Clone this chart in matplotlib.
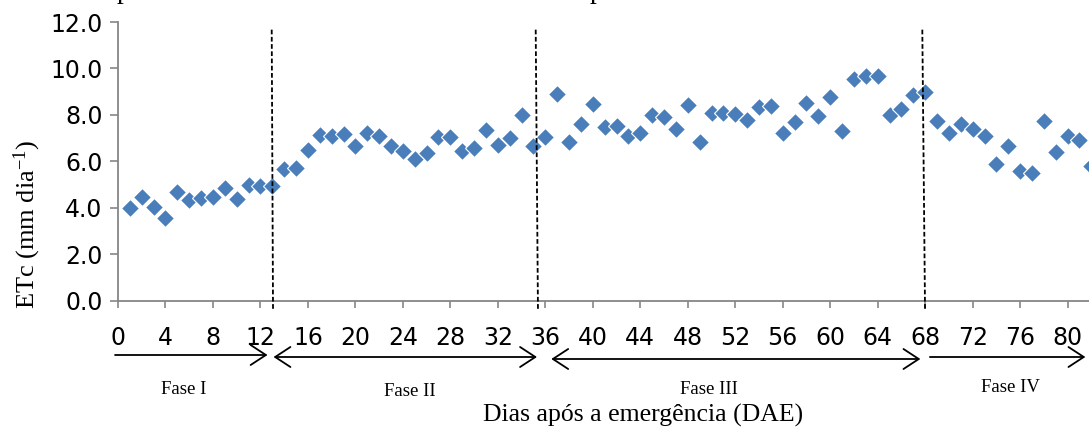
import numpy as np
import matplotlib
matplotlib.use("Agg")
import matplotlib.pyplot as plt
from matplotlib.patches import FancyArrowPatch
from matplotlib.transforms import blended_transform_factory

plt.rcParams["mathtext.fontset"] = "custom"
plt.rcParams["mathtext.rm"] = "Liberation Serif"
plt.rcParams["mathtext.it"] = "Liberation Serif:italic"
plt.rcParams["mathtext.default"] = "regular"

# ---- data ----
days = list(range(1, 83))
etc = [4.00, 4.48, 4.02, 3.55, 4.67, 4.34, 4.41, 4.48, 4.87, 4.37, 4.99, 4.94, 4.96,
       5.66, 5.71, 6.50, 7.14, 7.11, 7.17, 6.64, 7.22, 7.11, 6.64,
       6.45, 6.09, 6.35, 7.03, 7.04, 6.45, 6.59, 7.36, 6.71, 7.00, 8.00, 6.67, 7.04,
       8.91, 6.83, 7.60, 8.48, 7.50, 7.53, 7.10, 7.24, 8.00, 7.93, 7.39, 8.43, 6.85,
       8.08, 8.08, 8.05, 7.76,
       8.32, 8.39, 7.21, 7.69, 8.53, 7.96, 8.75, 7.31, 9.56, 9.69, 9.66, 8.00, 8.25,
       8.87, 8.98,
       7.72, 7.21, 7.60, 7.40, 7.07, 5.88, 6.64, 5.60, 5.49, 7.72, 6.42, 7.10, 6.93, 5.78]
xticks = list(range(0, 81, 4))
yticks = [0, 2, 4, 6, 8, 10, 12]
phase_names = ["Fase I", "Fase II", "Fase III", "Fase IV"]
phase_label_x = [5.5, 24.6, 49.8, 75.2]
phase_bounds_top = [12.95, 35.19, 67.76]
phase_bounds_bottom = [13.06, 35.38, 67.99]
arrow_start = [-0.25, 13.1, 36.5, 68.4]
arrow_end = [12.6, 35.3, 67.6, 81.5]
arrow_styles = ["->", "<->", "<->", "->"]

W, H = 1089, 430
fig = plt.figure(figsize=(W / 100, H / 100), dpi=100)
ax = fig.add_axes([118 / W, (H - 300.7) / H, 971 / W, (300.7 - 22) / H])

ax.plot(days, etc, linestyle="none", marker="D", markersize=9.6,
        markerfacecolor="#4A7EBB", markeredgecolor="white", markeredgewidth=0.8,
        clip_on=False, zorder=3)

ax.set_xlim(0, 971 / 11.87)
ax.set_ylim(0, 12)
ax.set_xticks(xticks)
ax.set_xticklabels([str(t) for t in xticks])
ax.set_yticks(yticks)
ax.set_yticklabels([f"{t:.1f}" for t in yticks])

for s in ["top", "right"]:
    ax.spines[s].set_visible(False)
for s in ["left", "bottom"]:
    ax.spines[s].set_color("#868686")
    ax.spines[s].set_linewidth(1.3)

tick_font = "DejaVu Sans"
ax.tick_params(axis="x", direction="out", length=5, width=1.2, color="#868686",
               pad=13.5, labelsize=17)
ax.tick_params(axis="y", direction="out", length=5.8, width=1.2, color="#868686",
               pad=5.2, labelsize=17)
for lab in ax.get_xticklabels() + ax.get_yticklabels():
    lab.set_family(tick_font)

# phase boundary dashed lines
for xt, xb in zip(phase_bounds_top, phase_bounds_bottom):
    ax.plot([xt, xb], [11.67, -0.4], color="black", linewidth=1.3,
            linestyle=(0, (2.6, 1.4)), clip_on=False, zorder=4)

# arrows and phase labels below axis
trans = blended_transform_factory(ax.transData, fig.transFigure)
arrow_y = [(H - 355) / H, (H - 357) / H, (H - 359) / H, (H - 357) / H]
for x0, x1, st, y in zip(arrow_start, arrow_end, arrow_styles, arrow_y):
    arr = FancyArrowPatch((x0, y), (x1, y), transform=trans,
                          arrowstyle=f"{st},head_length=0.55,head_width=0.36",
                          mutation_scale=20, color="black", linewidth=1.3,
                          shrinkA=0, shrinkB=0, clip_on=False)
    fig.add_artist(arr)

phase_y = [(H - 390) / H, (H - 392) / H, (H - 389) / H, (H - 387) / H]
for name, x, y in zip(phase_names, phase_label_x, phase_y):
    fig.text(x, y, name, transform=trans, ha="center", va="center",
             family="Liberation Serif", fontsize=13.5)

fig.text(643 / W, (H - 415) / H, "Dias após a emergência (DAE)", ha="center",
         va="center", family="Liberation Serif", fontsize=18.5)
fig.text(27 / W, (H - 224) / H, "ETc (mm dia$^{-1}$)", ha="center", va="center",
         rotation=90, family="Liberation Serif", fontsize=19)

# cut-off caption text at the very top (only descenders visible, as in the source)
for px in [124, 597]:
    fig.text(px / W, 1 + 1.5 / H, "p", ha="center", va="baseline",
             family="Liberation Serif", fontsize=20)

fig.savefig("out.png", dpi=100)
